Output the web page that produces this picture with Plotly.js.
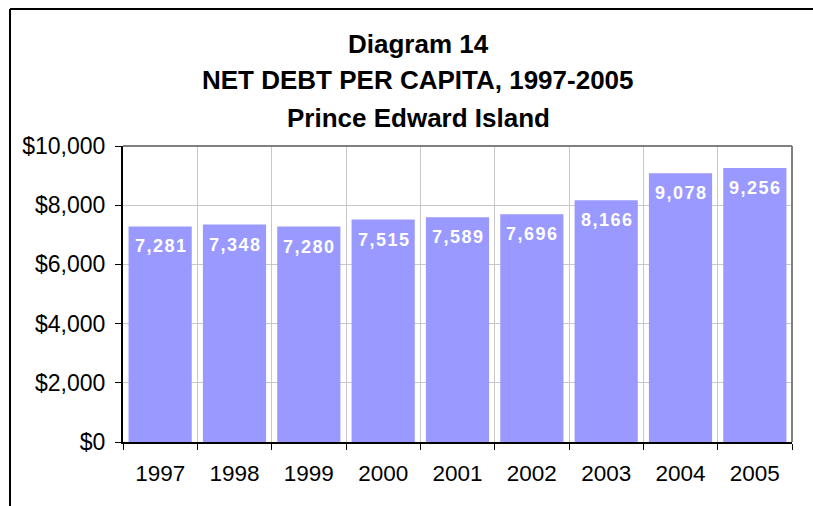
<!DOCTYPE html>
<html>
<head>
<meta charset="utf-8">
<script src="https://cdn.plot.ly/plotly-3.0.1.min.js"></script>
<style>
html,body{margin:0;padding:0;background:#fff;}
#chart{width:813px;height:506px;}
</style>
</head>
<body>
<div id="chart"></div>
<script>
var years = ["1997","1998","1999","2000","2001","2002","2003","2004","2005"];
var netDebt = [7281, 7348, 7280, 7515, 7589, 7696, 8166, 9078, 9256];
var titleLines = ["Diagram 14", "NET DEBT PER CAPITA, 1997-2005", "Prince Edward Island"];
var yTickVals = [0, 2000, 4000, 6000, 8000, 10000];
var yTickText = ["$0", "$2,000", "$4,000", "$6,000", "$8,000", "$10,000"];

var L = 123, R = 21, T = 146, B = 64, W = 813, H = 506;
var plotW = W - L - R, plotH = H - T - B;
function px2x(p){ return (p - L) / plotW; }
function py2y(p){ return (H - B - p) / plotH; }

function spaced(v){
  var s = v.toLocaleString('en-US');
  return s.split('').join('\u200A');
}

var annotations = [];
var titleY = [44, 80, 118];
titleLines.forEach(function(t, i){
  annotations.push({
    text: '<b>' + t + '</b>', xref: 'paper', yref: 'paper',
    x: px2x(418), y: py2y(titleY[i]), xanchor: 'center', yanchor: 'middle',
    showarrow: false, font: {family: 'Liberation Sans, Arial, sans-serif', size: 26, color: '#000'}
  });
});
years.forEach(function(yr, i){
  annotations.push({
    text: '<b>' + spaced(netDebt[i]) + '</b>', x: i, y: netDebt[i], xref: 'x', yref: 'y',
    xanchor: 'center', yanchor: 'top', yshift: -8, showarrow: false,
    font: {family: 'Liberation Sans, Arial, sans-serif', size: 18, color: '#fff'}
  });
});

var trace = {
  type: 'bar', x: years, y: netDebt,
  marker: {color: '#9999FF', line: {width: 0}},
  hoverinfo: 'none'
};

var layout = {
  width: W, height: H,
  margin: {l: L, r: R, t: T, b: B, pad: 0},
  paper_bgcolor: '#fff', plot_bgcolor: '#fff',
  showlegend: false,
  bargap: 0.15,
  font: {family: 'Liberation Sans, Arial, sans-serif', size: 23, color: '#000'},
  xaxis: {
    type: 'category', range: [-0.5, 8.5], tickson: 'boundaries', ticks: 'outside', ticklen: 6, tickcolor: '#000',
    showgrid: true, gridcolor: '#c8c8c8', gridwidth: 1,
    showline: true, linecolor: '#000', linewidth: 2,
    tickfont: {size: 22.5}, tickangle: 0, ticklabelstandoff: 10, fixedrange: true
  },
  yaxis: {
    range: [0, 10000], tickvals: yTickVals, ticktext: yTickText,
    ticks: 'outside', ticklen: 6, tickcolor: '#000',
    showgrid: true, gridcolor: '#c8c8c8', gridwidth: 1,
    showline: true, linecolor: '#000', linewidth: 2, zeroline: false,
    tickfont: {size: 23}, ticklabelstandoff: 5, fixedrange: true
  },
  shapes: [
    {type: 'line', xref: 'paper', yref: 'paper', x0: 0, x1: 1, y0: 1, y1: 1, line: {color: '#808080', width: 2}},
    {type: 'line', xref: 'paper', yref: 'paper', x0: 1, x1: 1, y0: 0, y1: 1, line: {color: '#808080', width: 2}},
    {type: 'line', xref: 'paper', yref: 'paper', x0: px2x(10), x1: px2x(813), y0: py2y(9), y1: py2y(9), line: {color: '#000', width: 2}},
    {type: 'line', xref: 'paper', yref: 'paper', x0: px2x(10), x1: px2x(10), y0: py2y(9), y1: py2y(506), line: {color: '#000', width: 2}}
  ],
  annotations: annotations
};

Plotly.newPlot('chart', [trace], layout, {displayModeBar: false, staticPlot: true});
</script>
</body>
</html>
